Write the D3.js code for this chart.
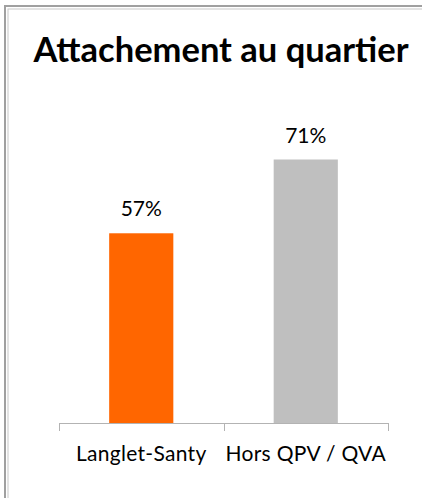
<!DOCTYPE html>
<html>
<head>
<meta charset="utf-8">
<script src="https://cdn.jsdelivr.net/npm/d3@7"></script>
<style>
  html, body { margin: 0; padding: 0; background: #fff; }
  svg { display: block; }
</style>
</head>
<body>
<div id="chart"></div>
<script>
// données du graphique
var categories = ["Langlet-Santy", "Hors QPV / QVA"];
var values = [0.57, 0.71];
var labels = ["57%", "71%"];
var colors = ["#FF6600", "#BFBFBF"];
var title = "Attachement au quartier";

var width = 422, height = 498;
var font = "Lato, Carlito, Calibri, sans-serif";

var svg = d3.select("#chart").append("svg")
    .attr("width", width)
    .attr("height", height);

// cadre (seulement haut et gauche visibles)
svg.append("rect").attr("x", 5).attr("y", 6).attr("width", 430).attr("height", 500)
    .attr("fill", "none").attr("stroke", "#a0a0a0").attr("stroke-width", 2);
svg.append("rect").attr("x", 8).attr("y", 9).attr("width", 430).attr("height", 500)
    .attr("fill", "none").attr("stroke", "#c8c8c8").attr("stroke-width", 1);

svg.append("text")
    .attr("x", 221).attr("y", 62)
    .attr("text-anchor", "middle")
    .style("font-family", font)
    .style("font-weight", "bold")
    .style("font-size", "34.5px")
    .attr("fill", "#000")
    .text(title);

var plotLeft = 59, plotRight = 388, baseY = 423;

var x = d3.scaleBand()
    .domain(categories)
    .range([plotLeft, plotRight])
    .padding(0);

// l'axe vertical d'Excel ne part pas de zéro ici
var y = d3.scaleLinear()
    .domain([0.21, 0.75])
    .range([baseY, baseY - 54 * 5.27]);

var barRatio = 0.39;
var bw = x.bandwidth() * barRatio;

svg.selectAll("rect.bar")
    .data(values)
    .enter()
    .append("rect")
    .attr("class", "bar")
    .attr("x", function (d, i) { return x(categories[i]) + (x.bandwidth() - bw) / 2; })
    .attr("y", function (d) { return y(d); })
    .attr("width", bw)
    .attr("height", function (d) { return baseY - y(d); })
    .attr("fill", function (d, i) { return colors[i]; });

svg.selectAll("text.val")
    .data(values)
    .enter()
    .append("text")
    .attr("class", "val")
    .attr("x", function (d, i) { return x(categories[i]) + x.bandwidth() / 2; })
    .attr("y", function (d) { return y(d) - 17; })
    .attr("text-anchor", "middle")
    .style("font-family", font)
    .style("font-size", "21px")
    .attr("fill", "#000")
    .text(function (d, i) { return labels[i]; });

// axe horizontal avec graduations entre les catégories
var axis = svg.append("g");
axis.append("line")
    .attr("x1", plotLeft).attr("x2", plotRight)
    .attr("y1", baseY + 0.5).attr("y2", baseY + 0.5)
    .attr("stroke", "#b3b3b3");
var tickPos = categories.map(function (c) { return x(c); }).concat([plotRight]);
axis.selectAll("line.tick")
    .data(tickPos)
    .enter()
    .append("line")
    .attr("class", "tick")
    .attr("x1", function (d) { return Math.round(d) + 0.5; })
    .attr("x2", function (d) { return Math.round(d) + 0.5; })
    .attr("y1", baseY).attr("y2", baseY + 8)
    .attr("stroke", "#b3b3b3");

axis.selectAll("text.cat")
    .data(categories)
    .enter()
    .append("text")
    .attr("class", "cat")
    .attr("x", function (d) { return x(d) + x.bandwidth() / 2; })
    .attr("y", 461)
    .attr("text-anchor", "middle")
    .style("font-family", font)
    .style("font-size", "21px")
    .style("letter-spacing", "0.3px")
    .attr("fill", "#000")
    .text(function (d) { return d; });
</script>
</body>
</html>
